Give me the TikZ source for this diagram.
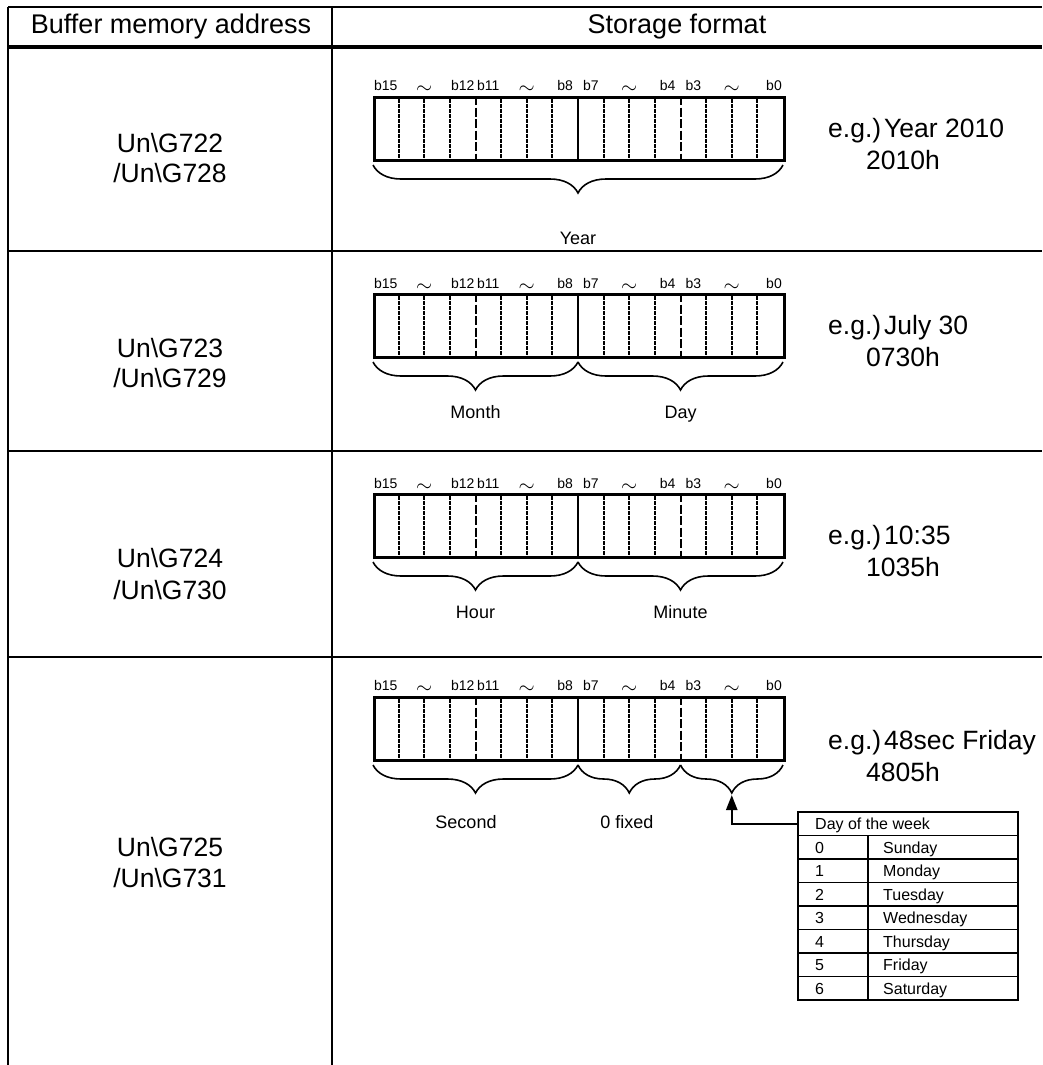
\documentclass[tikz,border=0pt]{standalone}
\usepackage{fontspec}
\setmainfont{Liberation Sans}
\usetikzlibrary{decorations.pathreplacing,arrows.meta,positioning}

\begin{document}
\begin{tikzpicture}[x=1pt, y=-1pt,
    frame/.style={line width=2.4pt},
    regbox/.style={draw, line width=2.6pt, minimum width=410pt, minimum height=63pt, anchor=north west, inner sep=0pt},
    bitdot/.style={line width=2.2pt, dash pattern=on 2pt off 0.5pt},
    nibdash/.style={line width=2pt, dash pattern=on 9pt off 2.5pt},
    bitlab/.style={font=\fontsize{14}{16}\selectfont, inner sep=0pt, anchor=base},
    curly/.style={decorate, decoration={brace, mirror, amplitude=28pt}, line width=1.6pt},
    maintext/.style={font=\fontsize{26.5}{30}\selectfont, inner sep=0pt},
    bracetext/.style={font=\fontsize{18}{21}\selectfont, inner sep=0pt},
    daytext/.style={font=\fontsize{16}{18}\selectfont, inner sep=0pt, anchor=base west}]
    \useasboundingbox (0,0) rectangle (1042,1065);

    % table grid
    \draw[frame] (8,7) -- (1042,7);
    \draw[line width=4.5pt] (8,47) -- (1042,47);
    \foreach \hy in {251,451,657}
        \draw[frame] (8,\hy) -- (1042,\hy);
    \draw[frame] (8,7) -- (8,1065);
    \draw[frame] (332,7) -- (332,1065);

    \node[maintext, font=\fontsize{27}{30}\selectfont] (headaddr) at (171,27) {Buffer memory address};
    \node[maintext, font=\fontsize{27}{30}\selectfont] (headfmt) at (677,27) {Storage format};

    % registers: row / top / label baseline
    \foreach \r/\ry/\ly in {1/96/90, 2/293/288, 3/493/488, 4/696/690} {
        \node[regbox] (reg\r) at (373,\ry) {};
        \foreach \i in {1,2,3,5,6,7,9,10,11,13,14,15}
            \draw[bitdot] (373+\i*25.625,\ry) -- (373+\i*25.625,\ry+63);
        \foreach \i in {4,12}
            \draw[nibdash] (373+\i*25.625,\ry) -- (373+\i*25.625,\ry+63);
        \draw[line width=2pt] (578,\ry) -- (578,\ry+63);
        \foreach \b in {15,12,11,8,7,4,3}
            \node[bitlab] (bit\r-\b) at (373+15.5*25.625-\b*25.625,\ly) {b\b};
        \node[bitlab] (bit\r-0) at (774,\ly) {b0};
        \foreach \t in {2,6,10,14}
            \node[bitlab, font=\fontsize{22}{22}\selectfont] at (373+\t*25.625,\ly+3) {$\sim$};
    }

    % braces
    \draw[curly] (373,165) -- (783,165);
    \draw[curly] (373,362) -- (578,362);
    \draw[curly] (578,362) -- (783,362);
    \draw[curly] (373,562) -- (578,562);
    \draw[curly] (578,562) -- (783,562);
    \draw[curly] (373,765) -- (578,765);
    \draw[curly] (578,765) -- (680.5,765);
    \draw[curly] (680.5,765) -- (783,765);
    \coordinate (daytip) at (731.75,795);

    \node[bracetext, anchor=base] (year) at (578,244) {Year};
    \node[bracetext, anchor=base] (month) at (475.5,418) {Month};
    \node[bracetext, anchor=base] (day) at (680.5,418) {Day};
    \node[bracetext, anchor=base] (hour) at (475.5,618) {Hour};
    \node[bracetext, anchor=base] (minute) at (680.5,618) {Minute};
    \node[bracetext, anchor=base] (second) at (466,828) {Second};
    \node[bracetext, anchor=base] (fixed) at (627,828) {0 fixed};

    % addresses
    \node[maintext] (addr1a) at (170,143) {Un\textbackslash G722};
    \node[maintext] (addr1b) at (170,173) {/Un\textbackslash G728};
    \node[maintext] (addr2a) at (170,348) {Un\textbackslash G723};
    \node[maintext] (addr2b) at (170,378) {/Un\textbackslash G729};
    \node[maintext] (addr3a) at (170,558) {Un\textbackslash G724};
    \node[maintext] (addr3b) at (170,590) {/Un\textbackslash G730};
    \node[maintext] (addr4a) at (170,847) {Un\textbackslash G725};
    \node[maintext] (addr4b) at (170,878) {/Un\textbackslash G731};

    % examples (baselines)
    \foreach \r/\ey/\va/\vb in {1/137/Year 2010/2010h, 2/334/July 30/0730h, 3/544/10:35/1035h, 4/749/48sec Friday/4805h} {
        \node[maintext, anchor=base west] (eg\r) at (828,\ey) {e.g.)};
        \node[maintext, anchor=base west] (ega\r) at (884,\ey) {\va};
        \node[maintext, anchor=base west] (egb\r) at (866,\ey+32) {\vb};
    }

    % day of the week table
    \draw[line width=1.5pt] (798,812) rectangle (1018,1000);
    \foreach \k in {1,...,7}
        \draw[line width=1.3pt] (798,812+\k*23.5) -- (1018,812+\k*23.5);
    \draw[line width=1.3pt] (868,835.5) -- (868,1000);
    \coordinate (dowleft) at (798,823.75);
    \node[daytext] (dowhead) at (815,829.5) {Day of the week};
    \foreach \k/\dname in {0/Sunday,1/Monday,2/Tuesday,3/Wednesday,4/Thursday,5/Friday,6/Saturday} {
        \node[daytext] (num\k) at (815,853+\k*23.5) {\k};
        \node[daytext] (name\k) at (883,853+\k*23.5) {\dname};
    }
    \draw[line width=2.4pt, -{Triangle[length=15pt, width=11pt]}] (dowleft) -| (daytip);
\end{tikzpicture}
\end{document}
